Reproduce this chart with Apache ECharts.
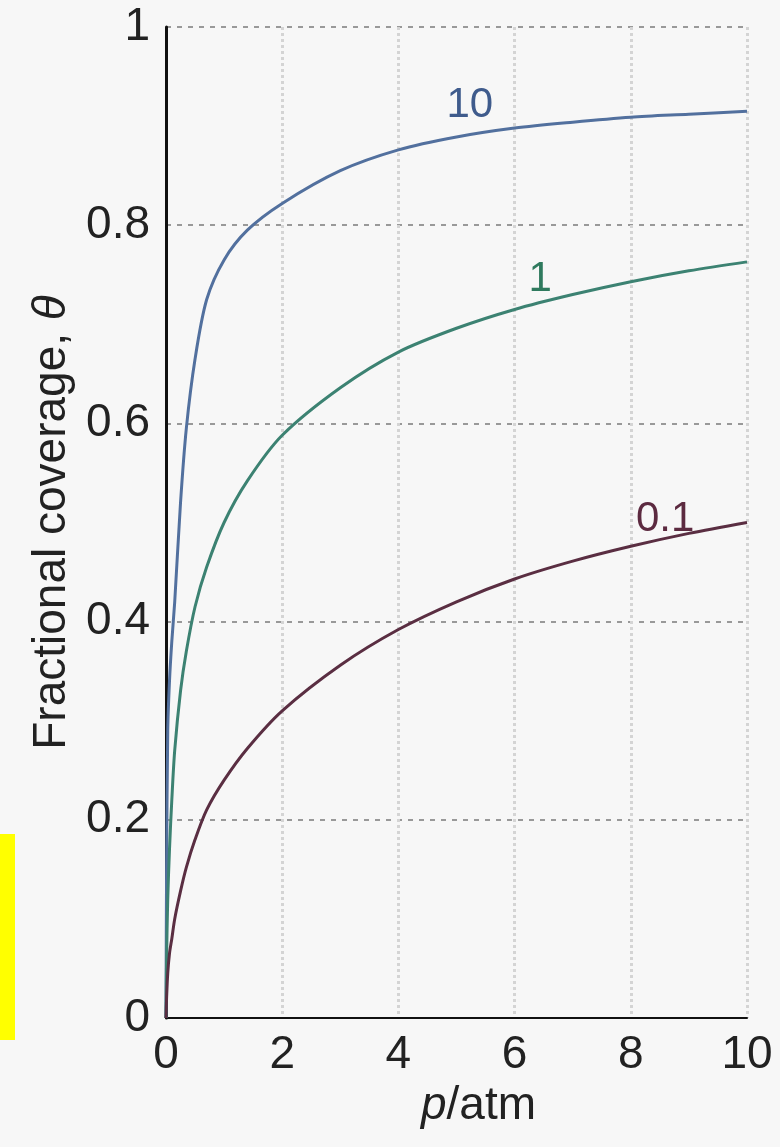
<!DOCTYPE html>
<html>
<head>
<meta charset="utf-8">
<script src="https://cdn.jsdelivr.net/npm/echarts@6/dist/echarts.min.js"></script>
<style>
  html, body { margin: 0; padding: 0; background: #f7f7f7; }
  #chart { width: 780px; height: 1147px; }
</style>
</head>
<body>
<div id="chart"></div>
<script>
// pressure samples (atm) and coverage
const pressure = [0, 0.01, 0.03, 0.06, 0.1, 0.15, 0.25, 0.35, 0.5, 0.7, 1, 1.4, 2, 3, 4, 5, 6, 7, 8, 9, 10];
const theta10  = [0, 0.15, 0.29, 0.34, 0.38, 0.42, 0.52, 0.595, 0.665, 0.725, 0.765, 0.795, 0.822, 0.855, 0.876, 0.889, 0.898, 0.904, 0.909, 0.912, 0.915];
const theta1   = [0, 0.06, 0.12, 0.17, 0.22, 0.27, 0.33, 0.37, 0.415, 0.455, 0.50, 0.542, 0.588, 0.636, 0.672, 0.696, 0.715, 0.730, 0.743, 0.754, 0.763];
const theta01  = [0, 0.02, 0.045, 0.065, 0.08, 0.10, 0.128, 0.152, 0.18, 0.21, 0.24, 0.272, 0.31, 0.356, 0.392, 0.42, 0.443, 0.461, 0.476, 0.489, 0.5];

const curveNames  = ['10', '1', '0.1'];
const curveColors = ['#52709e', '#3c8272', '#5a2e42'];
const labelColors = ['#3f5b8c', '#2f7a5e', '#5c2a40'];
// where each curve label sits, in data units [p, theta]
const labelAt = [[5.23, 0.921], [6.44, 0.745], [8.59, 0.503]];

const font = '"Liberation Sans", Arial, sans-serif';

(function () {
    let chart = echarts.init(document.querySelector('#chart'));

    let curves = [theta10, theta1, theta01];
    let series = curves.map((ys, i) => ({
        name: curveNames[i],
        type: 'line',
        data: pressure.map((p, j) => [p, ys[j]]),
        showSymbol: false,
        smooth: 0.3,
        lineStyle: { color: curveColors[i], width: 3 },
        z: 3,
        markPoint: {
            symbol: 'circle',
            symbolSize: 1,
            itemStyle: { color: 'rgba(0,0,0,0)' },
            label: {
                show: true,
                position: 'inside',
                formatter: curveNames[i],
                color: labelColors[i],
                fontSize: 42,
                fontFamily: font
            },
            data: [{ coord: labelAt[i] }]
        }
    }));

    let option = {
        backgroundColor: '#f7f7f7',
        animation: false,
        grid: { left: 166, right: 33, top: 27, bottom: 129 },
        graphic: [
            { type: 'rect', shape: { x: 0, y: 834, width: 15, height: 206 }, style: { fill: '#ffff00' } }
        ],
        xAxis: {
            type: 'value',
            min: 0, max: 10, interval: 2,
            name: '{i|p}/atm',
            nameLocation: 'middle',
            nameGap: 58,
            nameTextStyle: {
                fontSize: 46, color: '#222', fontFamily: font,
                padding: [0, 0, 0, 44],
                rich: { i: { fontSize: 46, fontStyle: 'italic', color: '#222', fontFamily: font } }
            },
            axisLine: { lineStyle: { color: '#111', width: 2 } },
            axisTick: { show: false },
            axisLabel: { fontSize: 46, color: '#222', fontFamily: font, margin: 14 },
            splitLine: { show: true, lineStyle: { color: '#d4d4d4', width: 3, type: 'dotted' } }
        },
        yAxis: {
            type: 'value',
            min: 0, max: 1, interval: 0.2,
            name: 'Fractional coverage, {i|θ}',
            nameLocation: 'middle',
            nameGap: 88,
            nameRotate: 90,
            nameTextStyle: {
                fontSize: 46, color: '#222', fontFamily: font,
                rich: { i: { fontSize: 46, fontStyle: 'italic', color: '#222', fontFamily: font } }
            },
            axisLine: { show: true, lineStyle: { color: '#111', width: 3 } },
            axisTick: { show: false },
            axisLabel: { fontSize: 46, color: '#222', fontFamily: font, margin: 16 },
            splitLine: { show: true, lineStyle: { color: '#999', width: 2, type: [5, 6] } }
        },
        series: series
    };

    chart.setOption(option);
})();
</script>
</body>
</html>
